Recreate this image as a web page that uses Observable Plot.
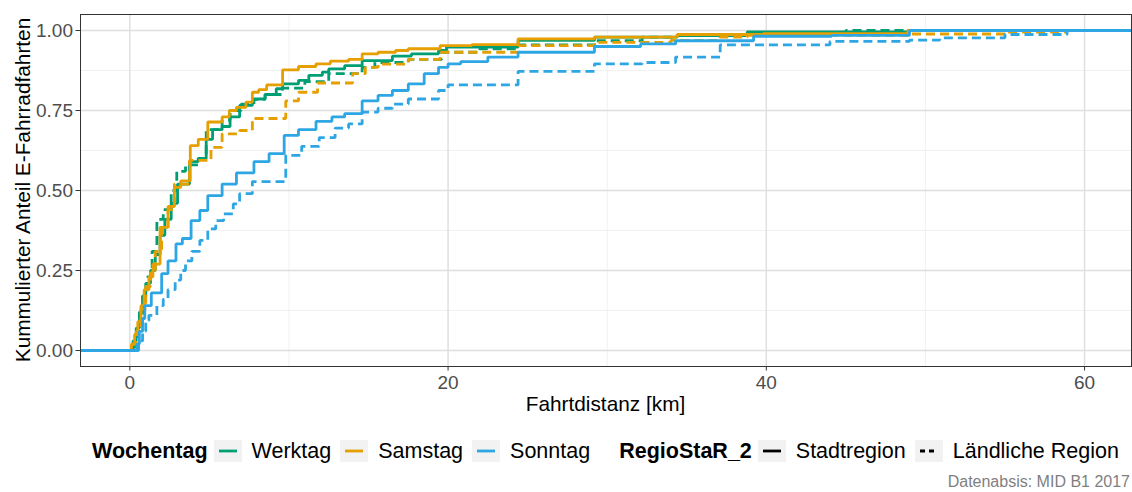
<!DOCTYPE html>
<html>
<head>
<meta charset="utf-8">
<script src="https://cdn.jsdelivr.net/npm/d3@7"></script>
<script src="https://cdn.jsdelivr.net/npm/@observablehq/plot@0.6"></script>
<style>
  html, body { margin: 0; padding: 0; background: #ffffff; }
  body { font-family: "Liberation Sans", Arial, sans-serif; }
  #wrap { position: relative; width: 1132px; height: 492px; overflow: hidden; }
  #chart svg { display: block; }
  #legend { position: absolute; left: 80px; top: 440px; width: 1051px; height: 22px;
            display: flex; justify-content: center; align-items: center;
            font-size: 21.5px; color: #000; white-space: nowrap; }
  #legend .ttl { font-weight: bold; margin-right: 6px; }
  #legend .key { width: 28px; height: 22px; margin-right: 10px; flex: none; }
  #legend .lab { margin-right: 9px; }
  #legend .lab.last { margin-right: 0; }
  #legend .gap { width: 20px; }
  #caption { position: absolute; right: 2px; top: 473px; font-size: 16px; color: #7F7F7F; line-height: 18px; }
</style>
</head>
<body>
<div id="wrap">
  <div id="chart"></div>
  <div id="legend"></div>
  <div id="caption"></div>
</div>
<script>
// ---------- data ----------
const weekdays = ["Werktag", "Samstag", "Sonntag"];
const regions = ["Stadtregion", "Ländliche Region"];
const weekdayColors = ["#009E73", "#E69F00", "#2EA6E4"];
const legendTitleWeekday = "Wochentag";
const legendTitleRegion = "RegioStaR_2";
const xLabel = "Fahrtdistanz [km]";
const yLabel = "Kummulierter Anteil E-Fahrradfahrten";
const captionText = "Datenabsis: MID B1 2017";
const xTicks = [0, 20, 40, 60];
const xMinorTicks = [10, 30, 50];
const yTicks = [0, 0.25, 0.5, 0.75, 1];
const yMinorTicks = [0.125, 0.375, 0.625, 0.875];

// Werktag, Stadtregion
const werktagStadtKm = [0.2,0.4,0.6,0.8,1.0,1.3,1.6,1.9,2.2,2.6,3.0,3.75,4.3,4.8,5.2,5.8,6.3,6.9,7.7,8.5,9.2,9.6,10.6,11.25,12.1,12.5,13.5,14.6,16.5,17.7,19.4,19.9,24.4,29.2,34.4,38.8,48.9];
const werktagStadtAnteil = [0.03,0.07,0.12,0.17,0.21,0.25,0.30,0.36,0.41,0.46,0.52,0.59,0.60,0.66,0.69,0.70,0.73,0.766,0.786,0.80,0.818,0.833,0.844,0.86,0.87,0.88,0.89,0.906,0.92,0.927,0.9375,0.948,0.969,0.979,0.984,0.996,1.0];
// Werktag, Ländliche Region
const werktagLandKm = [0.3,0.5,0.8,1.1,1.4,1.7,2.1,2.6,2.95,3.5,4.3,4.8,5.8,6.3,7.0,7.8,8.5,9.6,11.0,12.5,14.6,15.4,17.5,19.6,22.0,24.4,29.2,32.2,34.4,38.8,45.0];
const werktagLandAnteil = [0.03,0.08,0.17,0.23,0.31,0.41,0.44,0.50,0.56,0.58,0.60,0.69,0.72,0.75,0.77,0.785,0.80,0.82,0.84,0.865,0.885,0.90,0.91,0.932,0.943,0.955,0.968,0.979,0.984,0.99,1.0];
// Samstag, Stadtregion
const samstagStadtKm = [0.1,0.3,0.5,0.7,0.9,1.2,1.45,1.9,2.4,2.8,3.2,3.8,4.3,4.9,5.8,6.25,6.7,7.3,7.7,8.1,8.6,9.6,10.6,11.7,12.6,13.75,14.6,15.6,16.7,17.5,19.5,21.5,24.4,29.2,34.4,39.8,48.9];
const samstagStadtAnteil = [0.02,0.05,0.09,0.14,0.19,0.23,0.27,0.385,0.45,0.51,0.53,0.64,0.66,0.714,0.73,0.75,0.76,0.776,0.807,0.815,0.83,0.877,0.8875,0.896,0.904,0.91,0.927,0.932,0.9375,0.943,0.953,0.956,0.974,0.979,0.9875,0.99,1.0];
// Samstag, Ländliche Region
const samstagLandKm = [0.15,0.4,0.7,1.0,1.3,1.6,2.0,2.4,2.8,3.75,5.1,5.8,6.9,7.7,9.8,10.6,11.8,14.0,14.8,15.6,17.5,19.5,24.4,29.2,34.0,37.1,38.8,49.0,55.0,58.9];
const samstagLandAnteil = [0.02,0.06,0.13,0.2,0.25,0.31,0.38,0.44,0.52,0.594,0.635,0.677,0.6875,0.725,0.78,0.807,0.836,0.865,0.885,0.895,0.91,0.932,0.953,0.963,0.969,0.979,0.985,0.989,0.995,1.0];
// Sonntag, Stadtregion
const sonntagStadtKm = [0.45,0.6,0.8,0.94,1.35,2.0,2.4,2.9,3.3,3.85,4.4,4.9,5.8,6.7,7.8,8.75,9.7,10.6,11.7,12.7,13.5,14.6,15.6,16.5,17.5,18.5,19.4,20.0,20.8,22.5,24.4,29.2,32.1,34.3,39.2,44.1,49.0];
const sonntagStadtAnteil = [0.02,0.06,0.1,0.14,0.18,0.24,0.28,0.333,0.35,0.406,0.4375,0.484,0.52,0.555,0.59,0.615,0.672,0.69,0.716,0.73,0.74,0.78,0.797,0.8125,0.833,0.865,0.885,0.896,0.903,0.917,0.932,0.95,0.958,0.968,0.982,0.985,1.0];
// Sonntag, Ländliche Region
const sonntagLandKm = [0.55,0.8,1.0,1.2,1.7,2.1,2.4,2.85,3.2,3.5,3.9,4.4,4.9,5.4,5.9,6.5,6.9,7.7,9.8,10.8,11.9,12.9,13.75,14.6,15.6,16.5,17.5,19.4,20.0,24.4,29.2,32.2,34.3,37.1,44.0,49.0,50.9,55.0,58.9];
const sonntagLandAnteil = [0.03,0.06,0.094,0.11,0.14,0.16,0.19,0.22,0.25,0.28,0.31,0.344,0.38,0.406,0.427,0.458,0.49,0.528,0.61,0.638,0.665,0.695,0.708,0.745,0.757,0.77,0.786,0.8125,0.83,0.872,0.896,0.9,0.917,0.955,0.966,0.97,0.977,0.9875,1.0];

// ---------- build table ----------
const xDomain = [-3.1, 62.95];
const yDomain = [-0.05, 1.05];
const seriesList = [
  {wochentag: "Werktag", region: "Stadtregion", km: werktagStadtKm, anteil: werktagStadtAnteil},
  {wochentag: "Werktag", region: "Ländliche Region", km: werktagLandKm, anteil: werktagLandAnteil},
  {wochentag: "Samstag", region: "Stadtregion", km: samstagStadtKm, anteil: samstagStadtAnteil},
  {wochentag: "Samstag", region: "Ländliche Region", km: samstagLandKm, anteil: samstagLandAnteil},
  {wochentag: "Sonntag", region: "Stadtregion", km: sonntagStadtKm, anteil: sonntagStadtAnteil},
  {wochentag: "Sonntag", region: "Ländliche Region", km: sonntagLandKm, anteil: sonntagLandAnteil}
];
const rows = [];
for (const s of seriesList) {
  const key = s.wochentag + " / " + s.region;
  // ecdf padding to -Inf / +Inf (panel edges)
  rows.push({key, wochentag: s.wochentag, region: s.region, km: xDomain[0], anteil: 0});
  s.km.forEach((k, i) => rows.push({key, wochentag: s.wochentag, region: s.region, km: k, anteil: s.anteil[i]}));
  rows.push({key, wochentag: s.wochentag, region: s.region, km: xDomain[1], anteil: 1});
}

const lineMarks = [];
for (const w of weekdays) {
  for (const r of regions) {
    lineMarks.push(Plot.line(rows.filter(d => d.wochentag === w && d.region === r), {
      x: "km", y: "anteil", z: "key", stroke: "wochentag",
      curve: "step-after", strokeWidth: 2.8,
      strokeDasharray: r === "Stadtregion" ? null : "9,5",
      strokeLinejoin: "miter", strokeLinecap: "butt", clip: true
    }));
  }
}

const plot = Plot.plot({
  width: 1132,
  height: 425,
  marginLeft: 80,
  marginRight: 1,
  marginTop: 14,
  marginBottom: 59,
  style: {fontFamily: "'Liberation Sans', Arial, sans-serif", fontSize: "19px", background: "white", color: "#4D4D4D"},
  x: {domain: xDomain, label: null},
  y: {domain: yDomain, label: null},
  color: {domain: weekdays, range: weekdayColors},
  marks: [
    Plot.gridX(xMinorTicks, {stroke: "#EDEDED", strokeOpacity: 1, strokeWidth: 0.8}),
    Plot.gridY(yMinorTicks, {stroke: "#EDEDED", strokeOpacity: 1, strokeWidth: 0.8}),
    Plot.gridX(xTicks, {stroke: "#DEDEDE", strokeOpacity: 1, strokeWidth: 1.4}),
    Plot.gridY(yTicks, {stroke: "#DEDEDE", strokeOpacity: 1, strokeWidth: 1.4}),
    ...lineMarks,
    Plot.frame({stroke: "#333333", strokeWidth: 1}),
    Plot.axisX(xTicks, {tickSize: 4.5, tickPadding: 4.5, stroke: "#333333", fill: "#4D4D4D", fontSize: 19, label: null, tickFormat: d => String(d)}),
    Plot.axisY(yTicks, {tickSize: 4.5, tickPadding: 3, stroke: "#333333", fill: "#4D4D4D", fontSize: 19, label: null, tickFormat: d3.format(".2f")})
  ]
});
document.getElementById("chart").appendChild(plot);

// axis titles
const svg = d3.select(plot);
svg.append("text")
  .attr("x", (80 + 1131) / 2).attr("y", 411)
  .attr("text-anchor", "middle")
  .attr("fill", "#000").style("font-size", "20.8px")
  .text(xLabel);
svg.append("text")
  .attr("transform", "translate(30," + ((14 + 366) / 2) + ") rotate(-90)")
  .attr("text-anchor", "middle")
  .attr("fill", "#000").style("font-size", "20.8px")
  .text(yLabel);

// legend
const legend = d3.select("#legend");
function keySvg(sel, color, dash) {
  const s = sel.append("svg").attr("class", "key").attr("width", 28).attr("height", 22);
  s.append("rect").attr("width", 28).attr("height", 22).attr("fill", "#F2F2F2");
  s.append("line").attr("x1", 5).attr("x2", 23).attr("y1", 11).attr("y2", 11)
    .attr("stroke", color).attr("stroke-width", 2.8)
    .attr("stroke-dasharray", dash ? "5,4" : null);
}
legend.append("span").attr("class", "ttl").text(legendTitleWeekday);
weekdays.forEach((w, i) => {
  keySvg(legend, weekdayColors[i], false);
  legend.append("span").attr("class", "lab").text(w);
});
legend.append("span").attr("class", "gap");
legend.append("span").attr("class", "ttl").text(legendTitleRegion);
regions.forEach((r, i) => {
  keySvg(legend, "#000", i === 1);
  legend.append("span").attr("class", i === regions.length - 1 ? "lab last" : "lab").text(r);
});
d3.select("#caption").text(captionText);
</script>
</body>
</html>
